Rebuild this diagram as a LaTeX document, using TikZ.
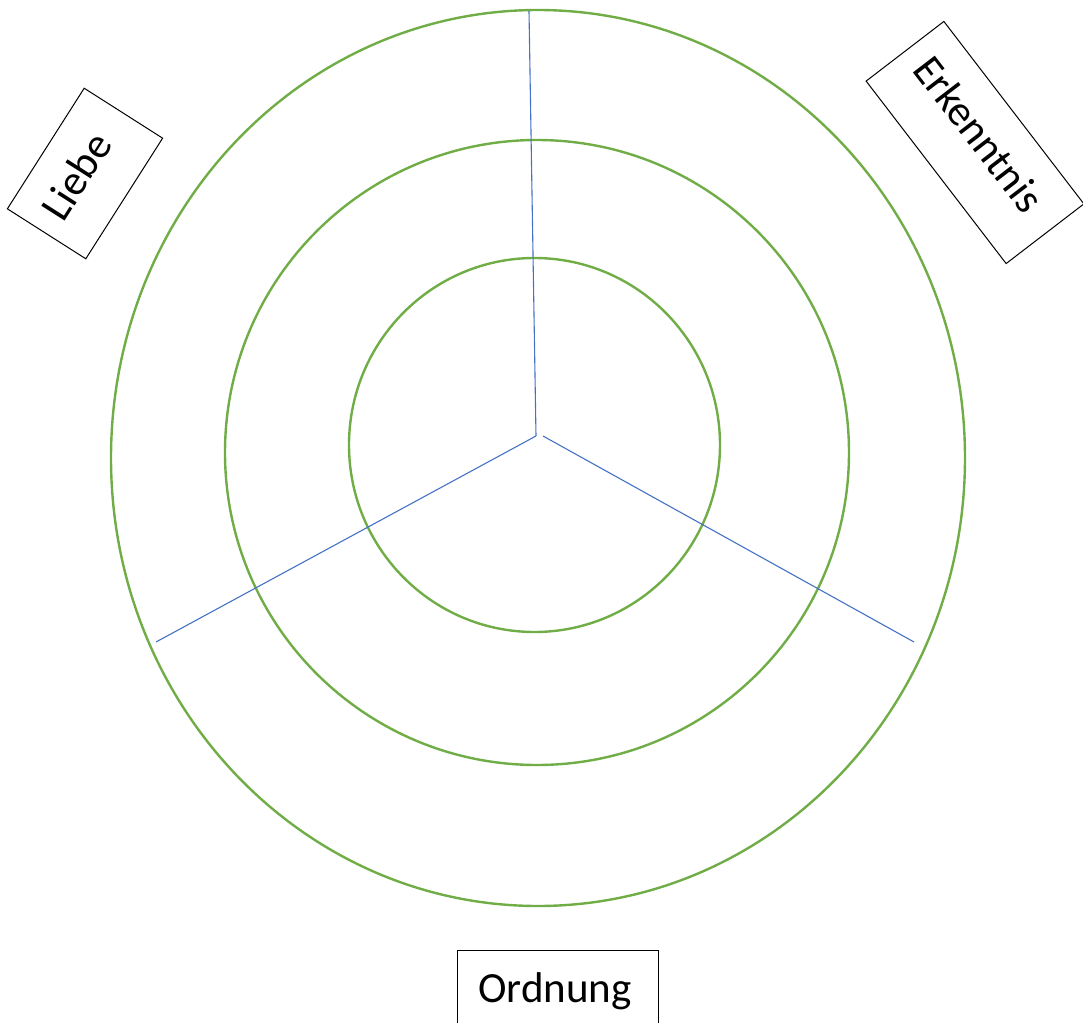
\documentclass[tikz,border=0pt]{standalone}
\usepackage{fontspec}
\setmainfont{Carlito}
\definecolor{ringgreen}{HTML}{70AD47}
\definecolor{spokeblue}{HTML}{4472C4}
\tikzset{
  ring/.style={draw=ringgreen, line width=1.2pt},
  spoke/.style={draw=spokeblue, line width=0.55pt},
  label box/.style={draw=black, line width=0.5pt, inner sep=0pt},
  label text/.style={inner sep=0pt, font=\fontsize{21.5}{26}\selectfont}
}
\begin{document}
\begin{tikzpicture}[x=0.5pt, y=0.5pt]
  % Page frame (pixel units, y downwards)
  \useasboundingbox (0,0) rectangle (1083,-1023);
  % Rings
  \draw[ring] (538,-458) ellipse [x radius=427, y radius=448];
  \draw[ring] (537,-452.5) ellipse [x radius=312, y radius=312.5];
  \draw[ring] (534.5,-445) ellipse [x radius=185.5, y radius=187];
  % Spokes
  \coordinate (hubL) at (536,-436);
  \coordinate (hubR) at (543,-436);
  \coordinate (endTop) at (529,-11);
  \coordinate (endLeft) at (156,-642);
  \coordinate (endRight) at (914,-642);
  \draw[spoke] (hubL) -- (endTop);
  \draw[spoke] (hubL) -- (endLeft);
  \draw[spoke] (hubR) -- (endRight);
  % Label boxes
  \node[label box, minimum width=71.5pt, minimum height=46.5pt, rotate=57.5]
    (liebeBox) at (85,-173.5) {};
  \node[label box, minimum width=115pt, minimum height=49pt, rotate=-52.5]
    (erkenntnisBox) at (975,-142.5) {};
  \node[label box, minimum width=100.5pt, minimum height=43pt]
    (ordnungBox) at (558,-993) {};
  % Label texts
  \node[label text, rotate=57.5] (liebe) at (76,-176) {Liebe};
  \node[label text, rotate=-52.5] (erkenntnis) at (979,-134) {Erkenntnis};
  \node[label text] (ordnung) at (555,-991) {Ordnung};
\end{tikzpicture}
\end{document}
